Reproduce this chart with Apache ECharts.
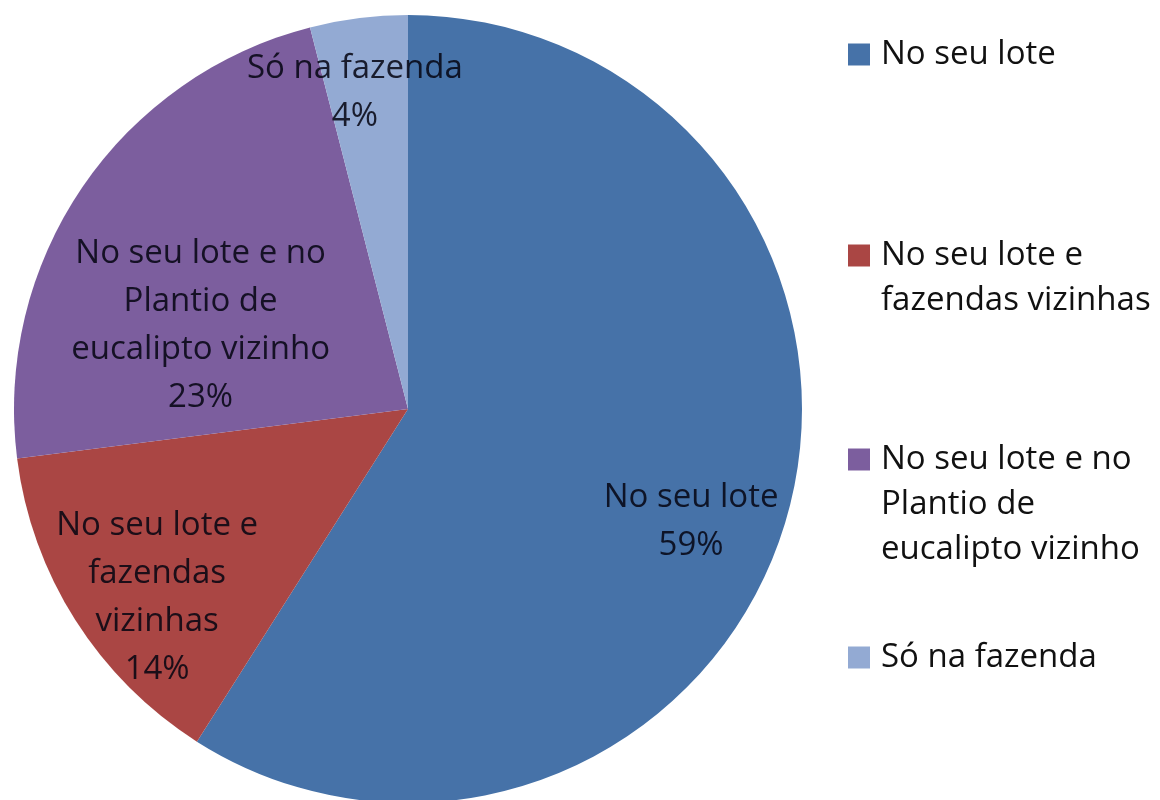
<!DOCTYPE html>
<html>
<head>
<meta charset="utf-8">
<script src="https://cdn.jsdelivr.net/npm/echarts@6/dist/echarts.min.js"></script>
<style>
  html, body { margin: 0; padding: 0; background: #ffffff; }
  #chart { width: 1160px; height: 800px; }
</style>
</head>
<body>
<div id="chart"></div>
<script>
// Categories and their shares (percent)
const categories = [
  'No seu lote',
  'No seu lote e fazendas vizinhas',
  'No seu lote e no Plantio de eucalipto vizinho',
  'Só na fazenda'
];
const values = [59, 14, 23, 4];

// Wrapped text used inside the slices
const sliceLabels = [
  'No seu lote',
  'No seu lote e\nfazendas\nvizinhas',
  'No seu lote e no\nPlantio de\neucalipto vizinho',
  'Só na fazenda'
];

// Wrapped text used in the legend
const legendLabels = [
  'No seu lote',
  'No seu lote e\nfazendas vizinhas',
  'No seu lote e no\nPlantio de\neucalipto vizinho',
  'Só na fazenda'
];

// Styling
const colors = ['#4672A8', '#AA4644', '#7C5E9E', '#93AAD3'];
const labelShift = [[91, 57], [-82, 81], [-42, 29], [-28, -118]];
const legendTop = [32, 188, 347, 635];
const FONT = '"Open Sans"';
const LEGEND_LH = 45;

const chart = echarts.init(document.getElementById('chart'));

// One legend per entry so every entry sits at its own height; the square
// lines up with the first text line, so blank lines are padded on top
// to keep that first line at the vertical centre of the text block.
const legends = categories.map(function (name, i) {
  const lines = legendLabels[i].split('\n').length;
  const lead = new Array(lines).join('\n');
  return {
    orient: 'vertical',
    left: 848,
    top: legendTop[i],
    padding: 0,
    itemWidth: 22,
    itemHeight: 22,
    itemGap: 0,
    selectedMode: false,
    icon: 'rect',
    data: [name],
    formatter: function (n) { return lead + legendLabels[categories.indexOf(n)]; },
    textStyle: {
      fontFamily: FONT,
      fontSize: 33,
      lineHeight: LEGEND_LH,
      color: '#111111',
      padding: [0, 0, 0, 6]
    }
  };
});

chart.setOption({
  animation: false,
  backgroundColor: '#ffffff',
  color: colors,
  legend: legends,
  series: [{
    type: 'pie',
    center: [408, 409],
    radius: 394,
    startAngle: 90,
    clockwise: true,
    avoidLabelOverlap: false,
    itemStyle: { borderWidth: 0 },
    label: {
      show: true,
      position: 'inside',
      fontFamily: FONT,
      fontSize: 33,
      lineHeight: 48,
      color: 'rgba(5, 5, 18, 0.86)',
      align: 'center',
      formatter: function (p) {
        return sliceLabels[p.dataIndex] + '\n' + p.value + '%';
      }
    },
    labelLine: { show: false },
    emphasis: { disabled: true },
    data: categories.map(function (name, i) {
      return {
        name: name,
        value: values[i],
        label: { offset: labelShift[i] }
      };
    })
  }]
});
</script>
</body>
</html>
